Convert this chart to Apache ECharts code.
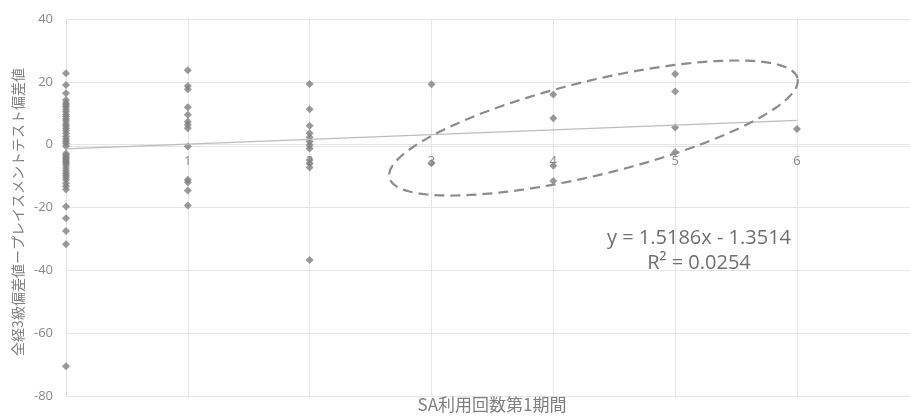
<!DOCTYPE html>
<html>
<head>
<meta charset="utf-8">
<script src="https://cdn.jsdelivr.net/npm/echarts@6/dist/echarts.min.js"></script>
<style>html,body{margin:0;padding:0;background:#fff}#c{width:910px;height:416px}</style>
</head>
<body>
<div id="c"></div>
<script>
// ---- data ----
var xName = 'SA利用回数第1期間';
var yName = '全経3級偏差値ープレイスメントテスト偏差値';
var yTicks = [-80, -60, -40, -20, 0, 20, 40];
var xTicks = [0, 1, 2, 3, 4, 5, 6];
var col0 = [22.7, 19.0, 16.4, 14.2, 13.3, 12.6, 12.0, 11.2, 10.5, 9.6, 9.0, 8.2, 7.5, 6.6, 6.0, 5.2, 4.5, 3.6, 2.6, 1.7, 1.0, 0.4, -0.5,
            -2.8, -3.4, -4.0, -4.6, -5.2, -5.8, -6.5, -7.4, -8.3, -9.0, -9.7, -10.4, -11.2, -12.3, -13.2, -14.3,
            -19.7, -23.4, -27.5, -31.7, -70.5];
var col1 = [23.7, 18.7, 17.6, 11.9, 9.5, 7.3, 6.3, 5.2, -0.6, -11.2, -12.0, -14.6, -19.4];
var col2 = [19.3, 11.3, 6.0, 3.6, 2.4, 1.0, -0.1, -1.2, -4.9, -5.9, -7.3, -36.7];
var col3 = [19.2, -5.9];
var col4 = [16.0, 8.4, -6.7, -11.6];
var col5 = [22.5, 16.9, 5.5, -2.4];
var col6 = [5.0];
var trendStart = [0, -1.3514];
var trendEnd = [6, 7.7602];
var eqText = 'y = 1.5186x - 1.3514';
var r2Text = 'R² = 0.0254';

var cols = [col0, col1, col2, col3, col4, col5, col6];
var pts = [];
cols.forEach(function (c, i) { c.forEach(function (v) { pts.push([i, v]); }); });

var FONT = '"Open Sans", "Noto Sans CJK JP", sans-serif';
var JP = '"Noto Sans CJK JP", sans-serif';
var TXT = '#8a8a8a';
var chart = echarts.init(document.getElementById('c'), null, {renderer: 'canvas'});
chart.setOption({
  animation: false,
  textStyle: {fontFamily: FONT},
  grid: {left: 66, right: 0, top: 19, bottom: 20, containLabel: false},
  xAxis: {
    type: 'value', min: 0, max: 6.928, interval: 1,
    axisLine: {show: true, onZero: false, lineStyle: {color: '#e2e2e2'}},
    axisTick: {show: false},
    axisLabel: {margin: 9, fontSize: 13, color: TXT, fontFamily: FONT, showMaxLabel: false,
      formatter: function (v) { return xTicks.indexOf(v) >= 0 ? String(v) : ''; }},
    splitLine: {show: true, showMaxLine: false, lineStyle: {color: '#e6e6e6'}}
  },
  yAxis: {
    type: 'value', min: -80, max: 40, interval: 20,
    axisLine: {show: true, onZero: false, lineStyle: {color: '#e2e2e2'}},
    axisTick: {show: false},
    axisLabel: {margin: 13, fontSize: 13, color: TXT, fontFamily: FONT,
      formatter: function (v) { return yTicks.indexOf(v) >= 0 ? String(v) : ''; }},
    splitLine: {show: true, lineStyle: {color: '#e6e6e6'}}
  },
  series: [
    {type: 'scatter', data: pts, symbol: 'diamond', symbolSize: 8,
     itemStyle: {color: '#7f7f7f'}, z: 2},
    {type: 'line', data: [trendStart, trendEnd], symbol: 'none', silent: true,
     lineStyle: {color: '#bdbdbd', width: 1.2}, z: 3}
  ]
});

// move the x axis line + labels to y = 0 (Excel "crosses at 0")
var zeroPx = chart.convertToPixel({gridIndex: 0}, [0, 0]);
var bottomPx = chart.convertToPixel({gridIndex: 0}, [0, -80]);
chart.setOption({xAxis: {offset: -(bottomPx[1] - zeroPx[1])}});

// annotations positioned from data coordinates
var c = chart.convertToPixel({gridIndex: 0}, [4.33, 5.3]);
var a = 210, b = 47, th = 13.7 * Math.PI / 180;
var ell = [];
for (var k = 0; k < 180; k++) {
  var t = k / 180 * 2 * Math.PI;
  var ex = a * Math.cos(t), ey = b * Math.sin(t);
  ell.push([c[0] + ex * Math.cos(th) - ey * Math.sin(th), c[1] - (ex * Math.sin(th) + ey * Math.cos(th))]);
}
var eqPos = chart.convertToPixel({gridIndex: 0}, [5.196, -33.7]);
chart.setOption({
  graphic: [
    {type: 'polygon', shape: {points: ell}, silent: true, z: 10,
     style: {fill: 'none', stroke: '#8c8c8c', lineWidth: 2.2, lineDash: [10, 6]}},
    {type: 'text', x: eqPos[0], y: eqPos[1], z: 10,
     style: {text: eqText + '\n' + r2Text, align: 'center', verticalAlign: 'middle',
       font: '20px ' + FONT, fill: '#6f6f6f', lineHeight: 25}},
    {type: 'text', x: 492, y: 405, z: 10,
     style: {text: xName, align: 'center', verticalAlign: 'middle',
       font: '17px ' + JP, fill: '#7f7f7f'}},
    {type: 'text', x: 18, y: 212, rotation: Math.PI / 2, z: 10,
     style: {text: yName, align: 'center', verticalAlign: 'middle',
       font: '14px ' + JP, fill: '#7f7f7f'}}
  ]
});
</script>
</body>
</html>
